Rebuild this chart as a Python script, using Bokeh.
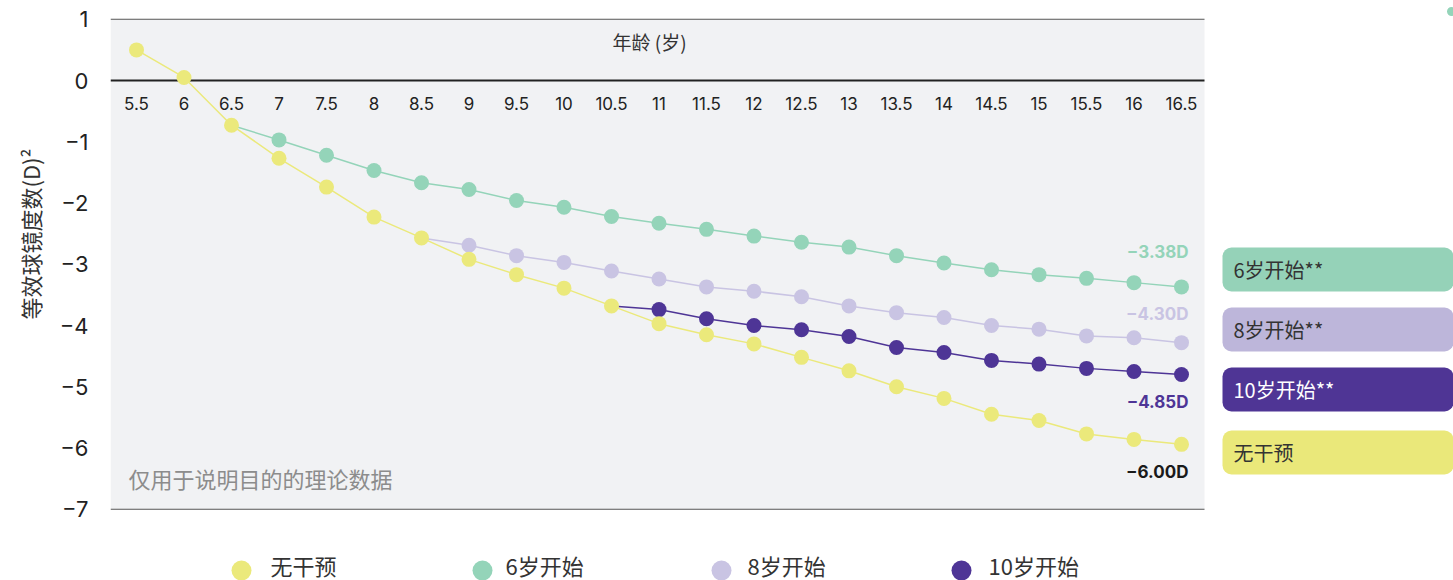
from bokeh.plotting import figure
from bokeh.models import Range1d, FixedTicker, Title
from bokeh.core.properties import value
from bokeh.embed import file_html
from bokeh.resources import INLINE

# ---------------- data ----------------
ages = [5.5, 6.0, 6.5, 7.0, 7.5, 8.0, 8.5, 9.0, 9.5, 10.0, 10.5, 11.0,
        11.5, 12.0, 12.5, 13.0, 13.5, 14.0, 14.5, 15.0, 15.5, 16.0, 16.5]
x_tick_labels = ["5.5", "6", "6.5", "7", "7.5", "8", "8.5", "9", "9.5", "10", "10.5", "11",
                 "11.5", "12", "12.5", "13", "13.5", "14", "14.5", "15", "15.5", "16", "16.5"]

no_intervention = [0.50, 0.05, -0.73, -1.27, -1.74, -2.23, -2.57, -2.92, -3.17, -3.39, -3.68, -3.97,
                   -4.15, -4.30, -4.52, -4.74, -5.00, -5.19, -5.45, -5.55, -5.77, -5.86, -5.94]
start_6_ages = ages[2:]
start_6 = [-0.73, -0.97, -1.22, -1.47, -1.67, -1.78, -1.96, -2.07, -2.22, -2.33, -2.43,
           -2.54, -2.64, -2.72, -2.86, -2.98, -3.09, -3.17, -3.23, -3.30, -3.37]
start_8_ages = ages[6:]
start_8 = [-2.57, -2.69, -2.86, -2.97, -3.11, -3.24, -3.37, -3.44, -3.53, -3.68, -3.79,
           -3.87, -4.00, -4.06, -4.17, -4.20, -4.28]
start_10_ages = ages[10:]
start_10 = [-3.68, -3.74, -3.89, -4.00, -4.07, -4.18, -4.36, -4.44, -4.57, -4.63, -4.70,
            -4.75, -4.80]

end_labels = ["\u22123.38D", "\u22124.30D", "\u22124.85D", "\u22126.00D"]
y_ticks = [-7, -6, -5, -4, -3, -2, -1, 0, 1]
y_tick_labels = ["\u22127", "\u22126", "\u22125", "\u22124", "\u22123", "\u22122", "\u22121", "0", "1"]
series_names = ["无干预", "6岁开始", "8岁开始", "10岁开始"]
box_labels = ["6岁开始**", "8岁开始**", "10岁开始**", "无干预"]
x_title = "年龄 (岁)"
y_title = "等效球镜度数(D)²"
note = "仅用于说明目的的理论数据"

# ---------------- styles ----------------
YELLOW = "#EBE97B"
GREEN = "#94D4B9"
LAV = "#C9C4E3"
PURPLE = "#4E3596"
BOX_COLORS = ["#95D2B8", "#BDB6DA", "#4F3595", "#EAE87A"]
BOX_TEXT = ["#333333", "#333333", "#FFFFFF", "#333333"]
CJK = value("Noto Sans CJK SC")
NUM = value("Inter")

# pixel -> data helpers (for decorations only)
X0_PX, X0, XS = 136.0, 5.5, 95.0
Y0_PX, YS = 80.0, 61.25


def dx(px):
    return X0 + (px - X0_PX) / XS


def dy(py):
    return (Y0_PX - py) / YS


W, H = 1453, 580
p = figure(width=W, height=H, output_backend="svg", toolbar_location=None,
           x_range=Range1d(dx(110), dx(W)), y_range=Range1d(dy(H), dy(0)),
           x_axis_location=None, y_axis_location="left",
           min_border_left=110, min_border_right=0, min_border_top=0, min_border_bottom=0)
p.outline_line_color = None
p.grid.visible = False
p.background_fill_color = "white"
p.border_fill_color = "white"

# y axis
ya = p.yaxis[0]
ya.ticker = FixedTicker(ticks=y_ticks)
ya.major_label_overrides = {t: l for t, l in zip(y_ticks, y_tick_labels)}
ya.axis_line_color = None
ya.major_tick_line_color = None
ya.minor_tick_line_color = None
ya.major_tick_out = 0
ya.major_tick_in = 0
ya.major_label_standoff = 22
ya.major_label_text_font = "Inter"
ya.major_label_text_font_size = "22px"
ya.major_label_text_color = "#222222"

yt = Title(text=y_title, align="right", offset=148, standoff=21,
           text_font="Noto Sans CJK SC", text_font_size="22px",
           text_font_style="normal", text_color="#333333")
p.add_layout(yt, "left")

# plot area
left_edge, right_edge = dx(110), dx(1204)
p.quad(left=[left_edge], right=[right_edge], top=[y_ticks[-1]], bottom=[y_ticks[0]],
       fill_color="#F1F2F4", line_color=None)
p.segment(x0=[left_edge], x1=[right_edge], y0=[y_ticks[-1]], y1=[y_ticks[-1]],
          line_color="#555555", line_width=1)
p.segment(x0=[left_edge], x1=[right_edge], y0=[y_ticks[0]], y1=[y_ticks[0]],
          line_color="#555555", line_width=1)
p.segment(x0=[left_edge], x1=[right_edge], y0=[0], y1=[0],
          line_color="#222222", line_width=2)

# x tick labels under the zero line
p.text(x=ages, y=[0] * len(ages), text=x_tick_labels, y_offset=23,
       text_align="center", text_baseline="middle",
       text_font=NUM, text_font_size="17px", text_color="#222222")
p.text(x=[dx(649)], y=[dy(41)], text=[x_title], text_align="center", text_baseline="middle",
       text_font=CJK, text_font_size="19px", text_color="#333333")
p.text(x=[dx(128)], y=[dy(477)], text=[note], text_align="left", text_baseline="middle",
       text_font=CJK, text_font_size="22px", text_color="#8C8C8C")

# series
for xs, ys, col in [(start_6_ages, start_6, GREEN), (start_8_ages, start_8, LAV),
                    (start_10_ages, start_10, PURPLE)]:
    p.line(xs, ys, line_color=col, line_width=1.5)
    p.scatter(xs[1:], ys[1:], marker="circle", size=15, fill_color=col, line_color=None)
p.line(ages, no_intervention, line_color=YELLOW, line_width=1.5)
p.scatter(ages, no_intervention, marker="circle", size=15, fill_color=YELLOW, line_color=None)

# end labels
ends = [start_6[-1], start_8[-1], start_10[-1], no_intervention[-1]]
end_cols = [GREEN, LAV, PURPLE, "#1A1A1A"]
end_off = [-35, -29, 27, 28]
for lab, yv, col, off in zip(end_labels, ends, end_cols, end_off):
    p.text(x=[ages[-1]], y=[yv], text=[lab], x_offset=7, y_offset=off,
           text_align="right", text_baseline="middle",
           text_font=NUM, text_font_size="17px", text_font_style="bold", text_color=col)

# right-hand boxes
box_tops = [247, 307, 367, 430]
box_h = 44
p.quad(left=[dx(1222)] * 4, right=[dx(1453)] * 4,
       top=[dy(t) for t in box_tops], bottom=[dy(t + box_h) for t in box_tops],
       fill_color=BOX_COLORS, line_color=None, border_radius=9)
p.text(x=[dx(1233)] * 4, y=[dy(t + box_h / 2) for t in box_tops], text=box_labels,
       text_align="left", text_baseline="middle", text_font=CJK, text_font_size="20px",
       text_color=BOX_TEXT)

# bottom legend
leg_cols = [YELLOW, GREEN, LAV, PURPLE]
leg_dot_px = [241, 482, 721, 961]
leg_txt_px = [270, 505, 747, 988]
p.scatter(x=[dx(v) for v in leg_dot_px], y=[dy(570)] * 4, marker="circle", size=20,
          fill_color=leg_cols, line_color=None)
p.text(x=[dx(v) for v in leg_txt_px], y=[dy(564)] * 4, text=series_names,
       text_align="left", text_baseline="middle", text_font=CJK, text_font_size="22px",
       text_color="#333333")

# small stray marker at top right
p.scatter(x=[dx(1451)], y=[dy(11)], marker="circle", size=9, fill_color=GREEN, line_color=None)

open("out.html", "w").write(file_html(p, INLINE))
